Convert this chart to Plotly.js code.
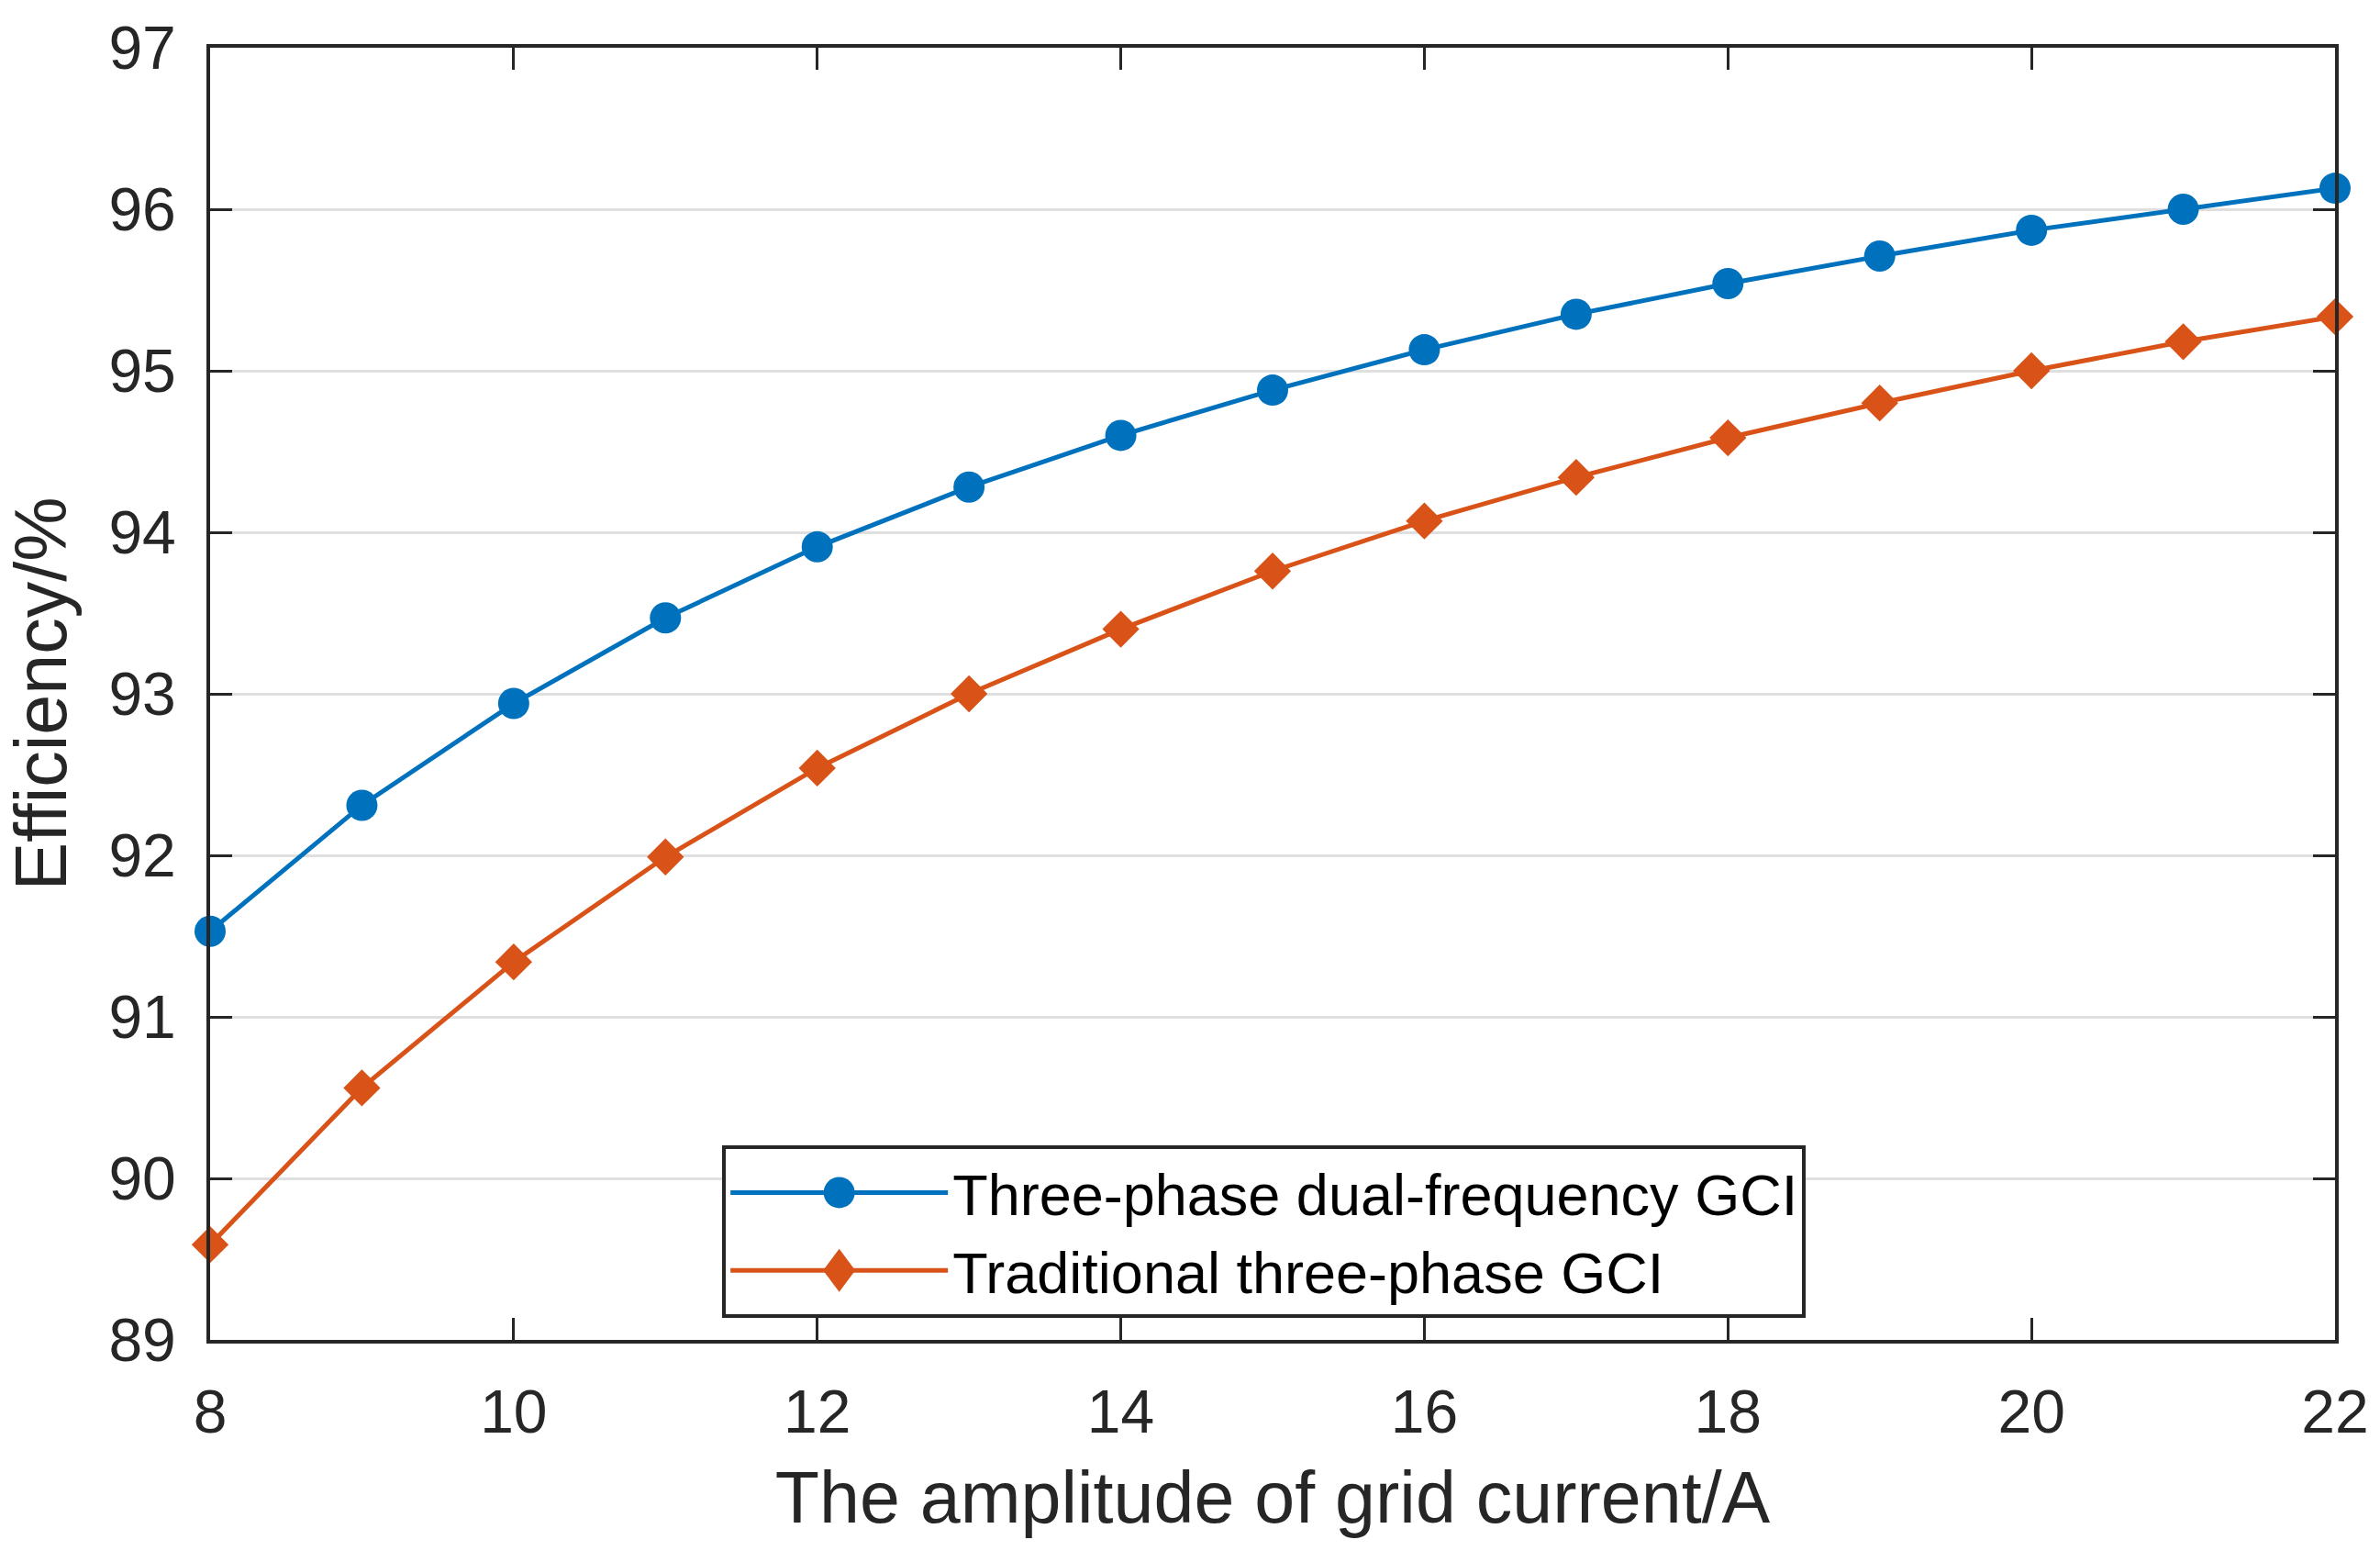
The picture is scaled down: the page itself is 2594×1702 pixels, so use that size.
<!DOCTYPE html>
<html>
<head>
<meta charset="utf-8">
<script src="https://cdn.plot.ly/plotly-3.0.1.min.js"></script>
<style>html,body{margin:0;padding:0;background:#fff;}#chart{width:2594px;height:1702px;}</style>
</head>
<body>
<div id="chart"></div>
<script>
const current = [8, 9, 10, 11, 12, 13, 14, 15, 16, 17, 18, 19, 20, 21, 22];
const dualFrequency = [91.53, 92.31, 92.94, 93.47, 93.91, 94.28, 94.60, 94.88, 95.13, 95.35, 95.54, 95.71, 95.87, 96.00, 96.13];
const traditional = [89.59, 90.56, 91.34, 91.99, 92.54, 93.00, 93.40, 93.76, 94.07, 94.34, 94.585, 94.80, 95.00, 95.18, 95.335];
const seriesNames = ['Three-phase dual-frequency GCI', 'Traditional three-phase GCI'];
const xTitle = 'The amplitude of grid current/A';
const yTitle = 'Efficiency/%';

const FONT = 'Liberation Sans, Arial, Helvetica, sans-serif';
const AX = '#262626';
const BLUE = '#0072BD';
const ORANGE = '#D95319';
const CIRCLE_SIZE = 34;
const DIAMOND_W = 35, DIAMOND_H = 47;

const traces = [
  {
    x: current, y: dualFrequency, name: seriesNames[0],
    type: 'scatter', mode: 'lines+markers', cliponaxis: false,
    line: {color: BLUE, width: 5},
    marker: {symbol: 'circle', size: CIRCLE_SIZE, color: BLUE}
  },
  {
    x: current, y: traditional, name: seriesNames[1],
    type: 'scatter', mode: 'lines+markers', cliponaxis: false,
    line: {color: ORANGE, width: 5},
    marker: {symbol: 'diamond', size: 31, color: ORANGE}
  }
];

const axisCommon = {
  showline: true, linecolor: AX, linewidth: 4, mirror: 'ticks',
  ticks: 'inside', ticklen: 24, tickwidth: 3, tickcolor: AX,
  tickfont: {family: FONT, size: 66, color: AX},
  zeroline: false
};

const layout = {
  width: 2594, height: 1702,
  margin: {l: 229, r: 49, t: 52, b: 242, pad: 0},
  paper_bgcolor: '#ffffff', plot_bgcolor: '#ffffff',
  showlegend: true,
  xaxis: Object.assign({}, axisCommon, {
    range: [8, 22], tick0: 8, dtick: 2, showgrid: false,
    ticklabelstandoff: 18,
    title: {text: xTitle, font: {family: FONT, size: 79, color: AX}, standoff: 30}
  }),
  yaxis: Object.assign({}, axisCommon, {
    range: [89, 97], tick0: 89, dtick: 1,
    showgrid: true, gridcolor: '#dfdfdf', gridwidth: 3,
    ticklabelstandoff: 20,
    title: {text: yTitle, font: {family: FONT, size: 79, color: AX}, standoff: 30}
  }),
  legend: {
    x: 0.241, y: 0.1506, xanchor: 'left', yanchor: 'top',
    bgcolor: 'rgba(0,0,0,0)', bordercolor: AX, borderwidth: 4,
    font: {family: FONT, size: 63, color: '#000000'},
    itemwidth: 237, tracegroupgap: 0
  },
  shapes: []
};

const gd = document.getElementById('chart');
Plotly.newPlot(gd, traces, layout, {staticPlot: true, displayModeBar: false}).then(function () {
  // Enlarge the legend glyphs: place bigger symbols under the legend's own (capped-size) markers.
  const root = gd.getBoundingClientRect();
  const fl = gd._fullLayout;
  const W = fl.width, H = fl.height;
  const toPX = function (px) { return (px - fl.margin.l) / fl._size.w; };
  const toPY = function (py) { return 1 - (py - fl.margin.t) / fl._size.h; };
  const shapes = [];
  const bg = gd.querySelector('.legend rect.bg');
  if (bg) {
    const r = bg.getBoundingClientRect();
    shapes.push({type: 'rect', xref: 'paper', yref: 'paper', layer: 'above',
      x0: toPX(r.left - root.left), x1: toPX(r.right - root.left),
      y0: toPY(r.bottom - root.top), y1: toPY(r.top - root.top),
      fillcolor: '#ffffff', line: {width: 0}});
  }
  const pts = gd.querySelectorAll('.legend .legendpoints path.scatterpts');
  pts.forEach(function (p, i) {
    const r = p.getBoundingClientRect();
    const cx = toPX((r.left + r.right) / 2 - root.left);
    const cy = toPY((r.top + r.bottom) / 2 - root.top);
    if (i === 0) {
      shapes.push({type: 'circle', xref: 'paper', yref: 'paper', layer: 'above',
        xsizemode: 'pixel', ysizemode: 'pixel', xanchor: cx, yanchor: cy,
        x0: -CIRCLE_SIZE / 2, x1: CIRCLE_SIZE / 2, y0: -CIRCLE_SIZE / 2, y1: CIRCLE_SIZE / 2,
        fillcolor: BLUE, line: {width: 0}});
    } else {
      const hw = DIAMOND_W / 2, hh = DIAMOND_H / 2;
      shapes.push({type: 'path', xref: 'paper', yref: 'paper', layer: 'above',
        xsizemode: 'pixel', ysizemode: 'pixel', xanchor: cx, yanchor: cy,
        path: 'M' + (-hw) + ',0 L0,' + hh + ' L' + hw + ',0 L0,' + (-hh) + ' Z',
        fillcolor: ORANGE, line: {width: 0}});
    }
  });
  return Plotly.relayout(gd, {shapes: shapes});
});
</script>
</body>
</html>
